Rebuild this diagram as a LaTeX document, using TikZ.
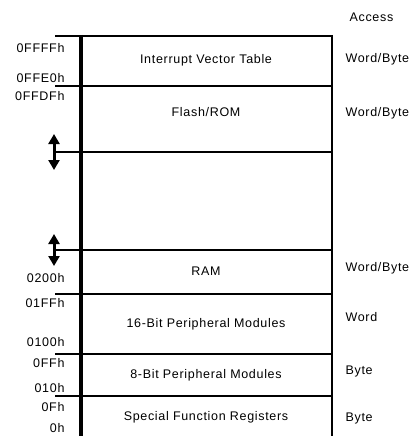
\documentclass[tikz,border=0pt]{standalone}
\usepackage{fontspec}
\setmainfont{Liberation Sans}[LetterSpace=5.5]
\usetikzlibrary{arrows.meta}

\begin{document}
\begin{tikzpicture}[x=1pt,y=-1pt,font=\fontsize{12.5}{14}\selectfont,
    addr/.style={anchor=east},
    acc/.style={anchor=west},
    gap/.style={line width=3pt,{Triangle[width=11pt,length=10pt]}-{Triangle[width=11pt,length=10pt]}}]
  \useasboundingbox (0,0) rectangle (413,436);
  % boundaries between the regions
  \foreach \y in {36,86,152,250,294,354,396} {
    \draw[line width=1.3pt] (55,\y) -- (80,\y);
    \draw[line width=2pt] (80,\y) -- (333,\y);
  }
  \coordinate (LT) at (81,35); \coordinate (LB) at (81,436);
  \coordinate (RT) at (332,35); \coordinate (RB) at (332,436);
  \draw[line width=3.6pt] (LT) -- (LB);
  \draw[line width=2pt] (RT) -- (RB);
  \draw[gap] (54,134) -- (54,170);
  \draw[gap] (54,234) -- (54,266);
  % region names
  \node (ivt) at (206,60) {Interrupt Vector Table};
  \node (flash) at (206,112) {Flash/ROM};
  \node (ram) at (206,271) {RAM};
  \node (p16) at (206,324) {16-Bit Peripheral Modules};
  \node (p8) at (206,375) {8-Bit Peripheral Modules};
  \node (sfr) at (206,417) {Special Function Registers};
  % addresses
  \node[addr] (a1) at (68,48) {0FFFFh};
  \node[addr] (a2) at (68,78) {0FFE0h};
  \node[addr] (a3) at (68,96) {0FFDFh};
  \node[addr] (a4) at (68,278) {0200h};
  \node[addr] (a5) at (68,303) {01FFh};
  \node[addr] (a6) at (68,342) {0100h};
  \node[addr] (a7) at (68,363) {0FFh};
  \node[addr] (a8) at (68,388) {010h};
  \node[addr] (a9) at (68,407) {0Fh};
  \node[addr] (a10) at (68,428) {0h};
  % access widths
  \node[acc] (acc) at (346,17) {Access};
  \node[acc] (w1) at (342,59) {Word/Byte};
  \node[acc] (w2) at (342,113) {Word/Byte};
  \node[acc] (w3) at (342,268) {Word/Byte};
  \node[acc] (w4) at (342,317) {Word};
  \node[acc] (w5) at (342,371) {Byte};
  \node[acc] (w6) at (342,418) {Byte};
\end{tikzpicture}
\end{document}
